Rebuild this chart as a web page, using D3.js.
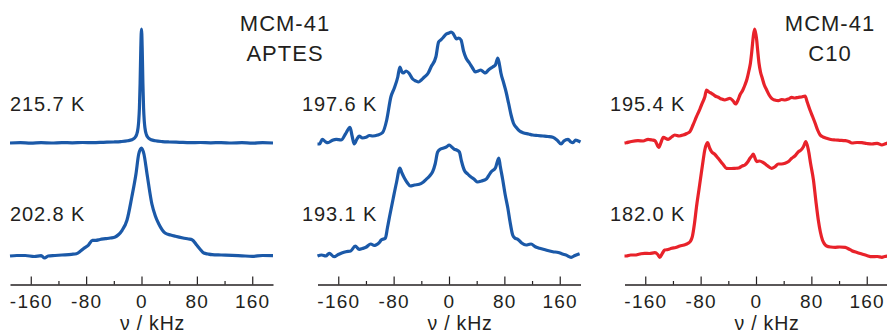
<!DOCTYPE html>
<html>
<head>
<meta charset="utf-8">
<script src="https://cdn.jsdelivr.net/npm/d3@7"></script>
<style>
  html, body { margin: 0; padding: 0; background: #fff; }
  svg { display: block; }
  text { font-family: "Liberation Sans", Arial, Helvetica, sans-serif; fill: #231f20; }
</style>
</head>
<body>
<svg id="chart" width="887" height="334"></svg>
<script>
// frequency (kHz) / intensity (a.u.) pairs
const aptes2157 = [[-190,0],[-175,0.3],[-160,-0.2],[-145,0.3],[-130,0],[-115,0.4],[-100,0.2],[-85,0.5],[-70,0.4],[-55,0.7],[-40,1],[-30,1.4],[-20,2.2],[-14,3.2],[-10,5],[-7,8.5],[-5,15],[-4,22],[-3,35],[-2,60],[-1,95],[0,114],[1,95],[2,60],[3,35],[4,22],[5,15],[7,8.5],[10,5],[14,3.2],[20,2.2],[30,1.4],[40,1],[55,0.7],[70,0.4],[85,0.5],[100,0.2],[115,0.4],[130,0],[145,0.3],[160,-0.2],[175,0.3],[190,0]]
const aptes2028 = [[-190,0],[-180,0.5],[-168,0.5],[-155,-0.5],[-145,0.3],[-140,-2],[-135,0],[-125,0.5],[-115,1],[-101,1.7],[-94,2.3],[-88,5],[-84,7.3],[-77,10.7],[-71,15.7],[-66,15.7],[-60,16.5],[-52,17.3],[-45,18],[-38,19],[-33,21.5],[-28,25.7],[-21,35.7],[-14,59],[-8,82],[-4,102],[0,108],[3.5,102],[8,82],[15,52],[20,40],[25,32],[34,23],[42,21],[49,19.7],[60,18],[68,17],[73,16.3],[80,10.7],[85,6.5],[90,3],[96,2],[102,1.3],[115,1],[131,0.7],[145,0.2],[160,-0.3],[175,0.5],[190,0.3]]
const aptes1976 = [[-190,-1],[-187,-1],[-183,3.7],[-178,1],[-175,0.3],[-169,2.5],[-163,3.7],[-156,3],[-149,9.7],[-143,15.7],[-140,7],[-137,-1],[-133,4],[-130,7],[-125,5],[-120,5.7],[-115,7.5],[-110,7],[-103,8],[-96,10.3],[-90,23],[-84,46],[-79,55],[-74,66],[-71,76],[-68,71],[-66,70],[-62,72],[-58,70],[-52.5,64],[-48,62],[-44,61],[-40,63],[-35.6,66],[-30,70],[-26,76],[-19,86],[-15,101],[-12,103],[-9,105],[-4,109],[0,110],[3,111],[5.4,110],[8,107],[11,104],[14,105],[17.4,103],[21,92],[24.6,85],[29.5,80],[34,75],[38,71],[42,72],[46,73],[50,71],[52.7,70],[57,73],[63,76],[67,78],[70.5,85],[73,78],[75,70],[79,60],[82.5,51],[86,40],[89.7,28],[93,20],[97,15.7],[102,12],[107,10.3],[115,9],[121,8],[128,7.5],[136,7],[143,6.5],[150,5.7],[156,3],[162,-1],[166,2],[172,3.7],[176,1],[179,0.3],[183,3],[186,2.3],[190,1]]
const aptes1931 = [[-190,0],[-184,1],[-178,0],[-173,2.7],[-166,-0.7],[-160,1.5],[-155,3],[-149,4.3],[-142,5],[-135.5,10],[-129.7,6.7],[-125,7.5],[-120,8.7],[-113,12],[-108,10.5],[-105.6,11],[-100,14],[-98,16],[-92,17.7],[-89,28],[-86,39],[-80.5,58],[-75.7,74],[-71,88],[-68,83],[-64.5,78],[-60,73],[-56,70],[-50,71],[-43,71.7],[-38,73.5],[-33,76.7],[-28,80],[-23.6,84.3],[-20,92],[-16.4,104],[-12,107],[-9,107.7],[-4,109],[0.5,111],[4,109],[7.8,106.7],[11,106],[15,104],[18,95],[22,86],[27,82],[31.8,79],[36,77],[41.5,74],[47,75],[53.5,76.7],[57,80],[60.8,84],[67,88],[72,98],[74,90],[77.7,76],[81,62],[85,48],[88,35],[92,21],[95,18],[99.4,16.7],[105,13],[111.4,11],[115,11.5],[118.7,12],[124,9.5],[130.8,7.7],[140,6],[150,4.3],[158,3.5],[164,2],[169,1],[176.5,-1.3],[182,0.5],[188.7,2.3]]
const c10_1954 = [[-190,0],[-187.5,0.3],[-180,1.5],[-170.5,2.3],[-163,2],[-156,3.7],[-150,3],[-146,2.3],[-140.5,-4.3],[-137,1],[-134,5.7],[-127,3.7],[-122,6],[-117.4,8],[-111,7],[-105,8],[-100,9.5],[-95.6,11.3],[-91,18],[-86,26.3],[-81,34],[-77.8,39.7],[-74,46],[-71.5,53],[-68,51],[-64.3,49.7],[-59,47],[-54.6,45.7],[-50,44],[-45,43],[-41,44],[-37.7,44.7],[-33,42],[-29.5,39],[-26,43],[-23.2,48],[-19,53],[-16,58],[-13,64],[-10,73],[-8,80],[-6.3,90],[-4,106],[-2,114],[0,108],[1,103],[2.5,92],[4.3,80],[6.5,71],[9,65],[12,58],[15.4,53],[19,48],[22.6,44.7],[27,43],[32.3,42.3],[37,43.5],[42,43],[47,44],[51.6,45.7],[56,45],[61.3,45.7],[66,46],[71,47],[74,41],[78,33],[82,26],[85.5,19.7],[89,13],[92.7,8],[97,6],[102,4.7],[108,3.5],[114.5,3],[121,2.7],[129,2.3],[134,1.5],[138.5,0],[146,0.5],[153,0.3],[160,-0.5],[167.5,-1],[175,-0.3],[182,-2],[186,-1],[190,0]]
const c10_1820 = [[-190,0],[-187.5,0],[-181,1],[-175,1],[-168,2],[-161,2.7],[-154,2.5],[-146,3.3],[-142,1.5],[-139,-1.3],[-135,3],[-132,6],[-127,6.5],[-122,7.7],[-116,8.5],[-110,10],[-104,11],[-98,12.7],[-95,14.5],[-92,19.3],[-89,32],[-86,49],[-82.5,66],[-79,83],[-76.5,95],[-74,106],[-70,113.3],[-67,108],[-64.3,104.3],[-60,102],[-54.6,97.7],[-48,92],[-42.6,87.7],[-36,87.5],[-30.4,87.7],[-25,88],[-20,90],[-16,91],[-12,94],[-8.7,97.7],[-6,100],[-4,102],[-1.5,98],[1,94.3],[5,95],[10.6,93.3],[15,91],[19,89],[22.6,87.7],[27,89],[32.3,92],[37,92],[42,92.7],[47,94.5],[51.6,97.7],[56,100],[61.3,104.3],[65,106],[68.5,109.3],[72,114.3],[75.7,106],[79,92],[83,76],[86.5,55],[90,36],[93,24],[96,16],[99,12],[102,10],[108,9],[114.5,8.7],[121,9],[129,8.7],[134,7],[138.5,5.3],[146,3.5],[153,2],[160,0.5],[167.5,-0.7],[175,-0.5],[182,-1.3],[186,-0.5],[190,0]]

const majorTicks = [-160, -80, 0, 80, 160]
const minorTicks = [-120, -40, 40, 120]
const tempLabels = [['215.7 K', '202.8 K'], ['197.6 K', '193.1 K'], ['195.4 K', '182.0 K']]
const titles = [['MCM-41', 'APTES'], [], ['MCM-41', 'C10']]

const blue = '#1b59a8'
const red = '#e8222a'

const svg = d3.select('#chart')

const panels = [
  { left: 10, traces: [aptes2157, aptes2028], color: blue, labelX: 10, titleX: 285 },
  { left: 317.5, traces: [aptes1976, aptes1931], color: blue, labelX: 302 },
  { left: 624.5, traces: [c10_1954, c10_1820], color: red, labelX: 610, titleX: 830 },
]

const axisY = 284.5
const offset = 113 // vertical stacking of the upper spectrum

const y = d3.scaleLinear().domain([0, 226]).range([256, 30])

panels.forEach((p, i) => {
  const x = d3.scaleLinear().domain([-190, 190]).range([p.left, p.left + 263])

  // major ticks with labels
  const ax = svg.append('g')
    .attr('transform', `translate(0, ${axisY})`)
    .call(d3.axisBottom(x)
      .tickValues(majorTicks)
      .tickFormat((d) => String(d))
      .tickSizeInner(-8)
      .tickSizeOuter(0)
      .tickPadding(10))
  ax.select('.domain').attr('stroke', '#231f20').attr('stroke-width', 1.4)
  ax.selectAll('.tick line').attr('stroke', '#231f20').attr('stroke-width', 1.2)
  ax.selectAll('.tick text')
    .attr('fill', '#231f20')
    .style('font-size', '19px')
    .style('letter-spacing', '1.2px')
    .style('font-family', '"Liberation Sans", Arial, sans-serif')

  // minor ticks
  const mx = svg.append('g')
    .attr('transform', `translate(0, ${axisY})`)
    .call(d3.axisBottom(x).tickValues(minorTicks).tickFormat('').tickSizeInner(-3.5).tickSizeOuter(0))
  mx.select('.domain').remove()
  mx.selectAll('.tick line').attr('stroke', '#231f20').attr('stroke-width', 1.2)

  // axis title
  svg.append('text')
    .attr('x', x(0) + 11)
    .attr('y', 330)
    .attr('text-anchor', 'middle')
    .style('font-size', '19.5px')
    .style('letter-spacing', '0.8px')
    .text('ν / kHz')

  const line = d3.line()
    .x((d) => x(d[0]))
    .curve(d3.curveMonotoneX)

  p.traces.forEach((tr, j) => {
    const off = j === 0 ? offset : 0
    svg.append('path')
      .datum(tr)
      .attr('fill', 'none')
      .attr('stroke', p.color)
      .attr('stroke-width', 3.2)
      .attr('stroke-linejoin', 'round')
      .attr('d', line.y((d) => y(d[1] + off)))

    svg.append('text')
      .attr('x', p.labelX)
      .attr('y', j === 0 ? 111 : 221)
      .style('font-size', '20px')
      .style('letter-spacing', '0.9px')
      .text(tempLabels[i][j])
  })

  titles[i].forEach((t, k) => {
    svg.append('text')
      .attr('x', p.titleX)
      .attr('y', 31 + k * 30)
      .attr('text-anchor', 'middle')
      .style('font-size', '22px')
      .style('letter-spacing', '1px')
      .text(t)
  })
})
</script>
</body>
</html>
